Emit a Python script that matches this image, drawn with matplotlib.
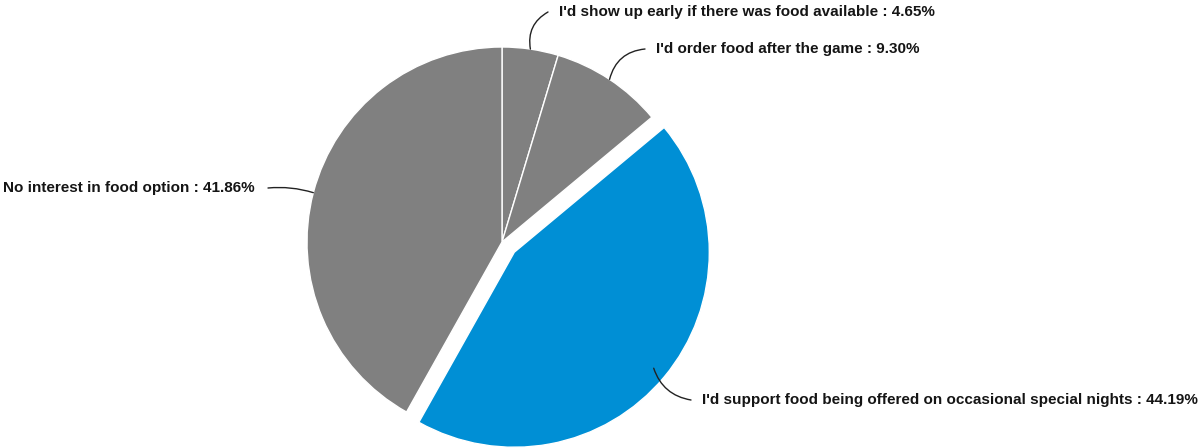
import numpy as np
import matplotlib.pyplot as plt

plt.rcParams["font.family"] = ["Liberation Sans", "DejaVu Sans"]

labels = [
    "I'd show up early if there was food available",
    "I'd order food after the game",
    "I'd support food being offered on occasional special nights",
    "No interest in food option",
]
values = [4.65, 9.30, 44.19, 41.86]
colors = ["#808080", "#808080", "#008fd5", "#808080"]

W, H = 1199, 448
fig = plt.figure(figsize=(W / 100, H / 100), dpi=100)
ax = fig.add_axes([0, 0, 1, 1])

cx, cy, r = 502, H - 242, 195
explode = [0, 0, 16, 0]  # pixel offset of the highlighted slice
wedges, _ = ax.pie(values, colors=colors, explode=explode, startangle=90, counterclock=False,
                   center=(cx, cy), radius=r, wedgeprops=dict(edgecolor="white", linewidth=1))
ax.set_xlim(0, W)
ax.set_ylim(0, H)
ax.set_aspect("auto")
ax.axis("off")

# label text anchors in pixels from top-left; right-hand labels are left aligned
text_pos = [(559, 12), (656, 49), (702, 400), (255, 188)]
aligns = ["left", "left", "left", "right"]
rads = [-0.35, -0.35, 0.3, 0.1]
depth = [1.0, 1.0, 0.93, 1.0]
for w, lab, val, (tx, ty), ha, rad, d in zip(wedges, labels, values, text_pos, aligns, rads, depth):
    ang = np.deg2rad((w.theta1 + w.theta2) / 2)
    wx, wy = w.center
    px = wx + w.r * d * np.cos(ang)
    py = wy + w.r * d * np.sin(ang)
    lx = tx - 11 if ha == "left" else tx + 13
    ax.text(tx, H - ty, f"{lab} : {val:.2f}%", ha=ha, va="center",
            fontsize=11.0, fontweight="bold", color="#151515")
    ax.annotate("", xy=(lx, H - ty), xytext=(px, py),
                arrowprops=dict(arrowstyle="-", color="#222222", lw=1,
                                shrinkA=0, shrinkB=0,
                                connectionstyle=f"arc3,rad={rad}"))

fig.savefig("out.png", dpi=100)
